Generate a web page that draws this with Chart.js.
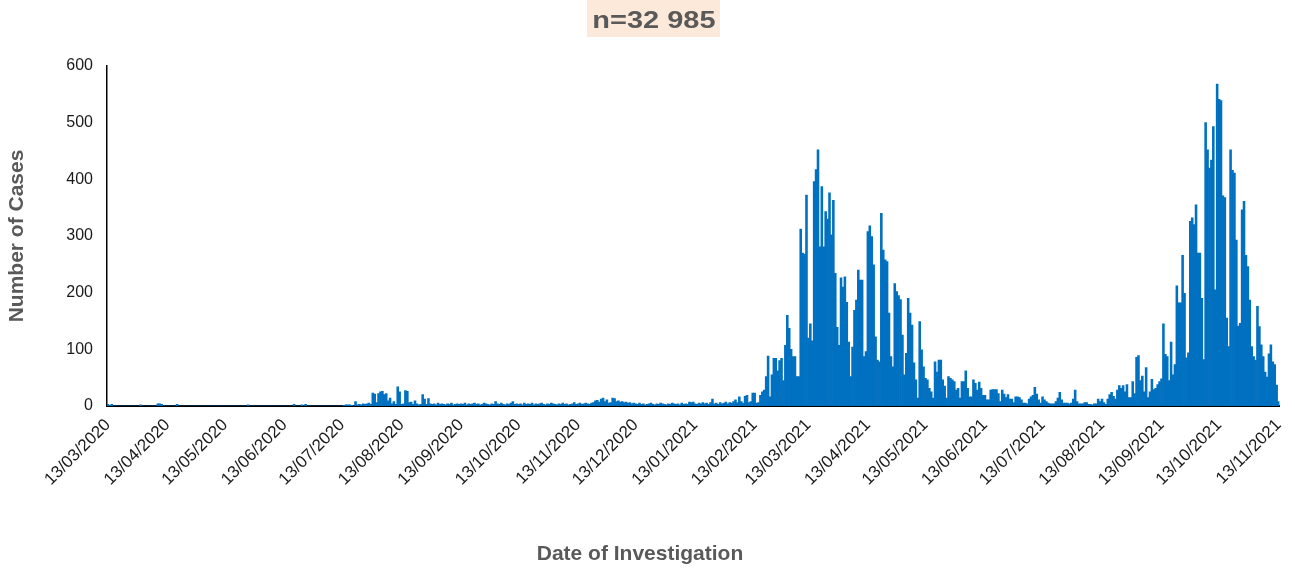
<!DOCTYPE html>
<html lang="en">
  <head>
    <meta charset="UTF-8" />
    <title>Cases by date of investigation</title>
    <style>
      body { margin: 0; background: #fff; }
      #wrap { position: relative; width: 1295px; height: 568px; }
      #myChart { position: absolute; left: 0; top: 0; }
      #total {
        position: absolute; left: 587px; top: 0; width: 133px; height: 37px;
        background: #fde9d9; color: #595959; text-align: center;
        font: bold 23px "Liberation Sans", Arial, sans-serif; line-height: 40px;
      }
      #total span { display: inline-block; transform: scaleX(1.26); }
      #xTitle {
        position: absolute; left: 0; top: 541px; width: 1280px; text-align: center;
        font: bold 21px "Liberation Sans", Arial, sans-serif; line-height: 24px; color: #595959;
      }
    </style>
  </head>
  <body>
    <div id="wrap">
      <canvas id="myChart" width="1295" height="568"></canvas>
      <div id="total"><span>n=32 985</span></div>
      <div id="xTitle">Date of Investigation</div>
    </div>

    <script src="https://cdn.jsdelivr.net/npm/chart.js"></script>
    <script>
      // daily cases, one array per period running from the 13th to the 12th of the next month
      const mar20 = [3,1,3,0,0,0,0,0,0,0, 0,0,0,0,0,0,0,2,0,0, 0,0,0,0,0,0,4,4,3,0, 0];
      const apr20 = [0,0,0,0,0,3,0,0,0,0, 0,0,0,0,0,0,0,0,0,0, 0,0,0,0,0,0,0,0,0,0];
      const may20 = [0,0,0,0,0,0,0,0,0,0, 0,0,2,0,0,0,0,0,0,0, 0,0,0,0,0,0,0,0,0,0, 0];
      const jun20 = [0,0,0,0,0,3,0,0,0,2, 0,3,0,0,0,0,0,0,0,0, 0,0,0,0,0,0,0,0,0,0];
      const jul20 = [0,1,2,2,2,1,0,8,2,3, 2,4,3,4,5,3,23,21,6,22, 25,26,20,22,9,14,4,8,3,34, 25];
      const aug20 = [3,4,27,26,6,7,3,9,4,2, 3,20,12,3,13,4,3,4,2,5, 3,4,3,2,4,3,5,2,3,4, 3];
      const sep20 = [4,3,5,2,4,3,4,5,3,4, 2,3,5,4,3,2,4,3,8,4, 3,5,3,2,4,3,5,8,3,4];
      const oct20 = [3,4,2,5,3,4,3,5,2,4, 3,4,5,3,2,4,3,5,4,3, 2,4,3,5,3,4,2,3,4,6, 3];
      const nov20 = [4,5,3,4,5,4,3,5,6,9, 10,7,12,14,8,11,5,6,14,13, 8,9,7,8,6,7,5,6,4,5];
      const dec20 = [4,3,5,3,4,2,3,4,5,3, 2,4,3,5,4,3,2,4,3,5, 4,3,4,2,5,3,4,3,7,6, 7];
      const jan21 = [4,3,5,4,6,4,5,3,6,12, 4,5,3,6,4,5,7,4,6,5, 8,11,6,16,8,5,17,19,6,8, 23];
      const feb21 = [23,5,6,19,25,28,52,88,16,55, 84,84,62,80,84,45,107,160,137,100, 87,87,52,52,312,270,268,372];
      const mar21 = [120,145,115,396,417,452,281,387,281,343, 330,376,302,363,234,139,107,226,210,228, 183,113,52,104,169,187,240,222,222,87, 96];
      const apr21 = [308,318,299,249,122,81,78,340,275,258, 255,164,87,69,216,202,195,188,125,55, 93,190,164,143,76,46,14,149,99,69];
      const may21 = [49,46,31,25,14,78,60,81,81,46, 35,14,52,49,46,43,28,31,14,43, 43,62,31,16,16,46,40,28,42,31, 19];
      const jun21 = [19,11,11,28,29,29,29,22,8,28, 21,15,20,12,12,6,16,16,15,11, 5,5,4,12,16,19,33,21,11,5];
      const jul21 = [16,11,8,5,4,4,4,8,14,24, 11,5,5,5,4,5,12,28,8,4, 4,4,6,6,3,3,2,4,4,12, 8];
      const aug21 = [12,6,3,12,20,24,17,12,28,36, 31,36,25,38,15,15,43,22,86,89, 45,53,25,68,15,25,47,29,31,38, 43];
      const sep21 = [48,145,91,87,45,113,55,73,212,182, 182,266,199,85,94,326,332,320,355,270, 270,190,82,500,452,420,434,493,205,568];
      const oct21 = [541,539,371,368,155,105,452,416,411,293, 141,146,346,361,266,246,187,105,87,81, 176,140,108,87,60,51,92,108,78,73, 37];
      const nov21 = [8];

      const cases = [].concat(mar20, apr20, may20, jun20, jul20, aug20, sep20, oct20, nov20,
        dec20, jan21, feb21, mar21, apr21, may21, jun21, jul21, aug21, sep21, oct21, nov21);

      const firstDay = Date.UTC(2020, 2, 13);
      const yTicks = [0, 100, 200, 300, 400, 500, 600];

      const pad = n => String(n).padStart(2, '0');
      const days = cases.map((_, i) => {
        const d = new Date(firstDay + i * 86400000);
        return pad(d.getUTCDate()) + '/' + pad(d.getUTCMonth() + 1) + '/' + d.getUTCFullYear();
      });
      const isTickDay = i => days[i] && days[i].startsWith('13/');

      const family = '"Liberation Sans", Arial, sans-serif';
      const ctx = document.getElementById('myChart').getContext('2d');

      new Chart(ctx, {
        type: 'bar',
        data: {
          labels: days,
          datasets: [{
            data: cases,
            backgroundColor: '#0070c0',
            borderWidth: 0,
            barPercentage: 1,
            categoryPercentage: 1
          }]
        },
        options: {
          responsive: false,
          animation: false,
          layout: { padding: { top: 66, right: 14, left: 0, bottom: 0 } },
          plugins: { legend: { display: false }, tooltip: { enabled: false } },
          scales: {
            x: {
              grid: {
                display: true,
                drawOnChartArea: false,
                drawTicks: true,
                tickLength: 7,
                tickWidth: 1.5,
                tickColor: c => isTickDay(c.index) ? '#000' : 'rgba(0,0,0,0)',
                offset: true
              },
              border: { display: true, color: '#000', width: 2 },
              ticks: {
                autoSkip: false,
                minRotation: 45,
                maxRotation: 45,
                padding: 2,
                color: '#1a1a1a',
                font: { family, size: 17 },
                callback: (v, i) => isTickDay(i) ? days[i] : null
              },
              afterFit: s => { s.height = 162; }
            },
            y: {
              min: 0,
              max: 600,
              afterBuildTicks: s => { s.ticks = yTicks.map(v => ({ value: v })); },
              grid: { display: false, drawTicks: false },
              border: { display: true, color: '#000', width: 1.5 },
              ticks: { padding: 14, color: '#1a1a1a', font: { family, size: 16 } },
              title: {
                display: true,
                text: 'Number of Cases',
                color: '#595959',
                font: { family, size: 21, weight: 'bold' },
                padding: { top: 5, bottom: 0 }
              },
              afterFit: s => { s.width = 107; }
            }
          }
        }
      });
    </script>
  </body>
</html>
